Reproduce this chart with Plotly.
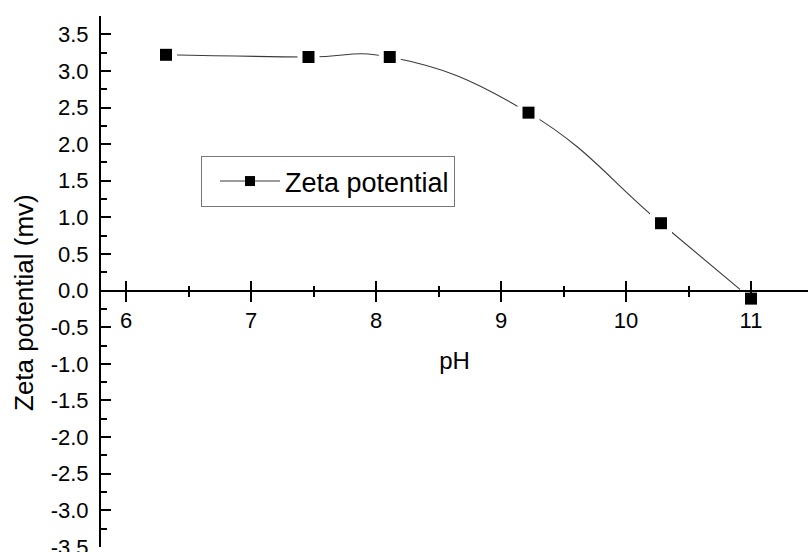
import plotly.graph_objects as go

# Measured zeta potential against pH
ph = [6.32, 7.46, 8.11, 9.22, 10.28, 11.0]
zeta = [3.22, 3.19, 3.19, 2.43, 0.92, -0.11]

series_name = "Zeta potential"
x_title = "pH"
y_title = "Zeta potential (mv)"

x_tick_vals = [6, 7, 8, 9, 10, 11]
y_tick_vals = [-3.5, -3.0, -2.5, -2.0, -1.5, -1.0, -0.5, 0.0,
               0.5, 1.0, 1.5, 2.0, 2.5, 3.0, 3.5]
y_tick_text = [f"{v:.1f}" for v in y_tick_vals]

W, H = 808, 552
M_L, M_R, M_T, M_B = 101, 0, 16, 5
X_RANGE = [5.8, 5.8 + (W - M_L - M_R) / 125.0]
Y_RANGE = [-3.502, 3.75]
# x axis crosses the y axis at zero
x_axis_pos = (0 - Y_RANGE[0]) / (Y_RANGE[1] - Y_RANGE[0])

FONT = "Liberation Sans, Arial, Helvetica, sans-serif"
LINE_COLOR = "#3a3a3a"

fig = go.Figure()

# smooth connecting curve
fig.add_trace(go.Scatter(
    x=ph, y=zeta, mode="lines",
    line=dict(color=LINE_COLOR, width=1.1, shape="spline", smoothing=1.3),
    showlegend=False, hoverinfo="skip",
))
# white halo so the curve stops short of each marker
fig.add_trace(go.Scatter(
    x=ph, y=zeta, mode="markers",
    marker=dict(symbol="square", size=22, color="white"),
    showlegend=False, hoverinfo="skip",
))
# data markers
fig.add_trace(go.Scatter(
    x=ph, y=zeta, mode="markers",
    marker=dict(symbol="square", size=12, color="black"),
    showlegend=False, name=series_name,
))
# legend entry (line + marker sample)
fig.add_trace(go.Scatter(
    x=[None], y=[None], mode="lines+markers", name=series_name,
    line=dict(color=LINE_COLOR, width=1.1),
    marker=dict(symbol="square", size=10, color="black"),
    showlegend=True,
))

axis_common = dict(
    showgrid=False, zeroline=False, linecolor="black", linewidth=2,
    tickcolor="black", tickwidth=2,
)

fig.update_layout(
    width=W, height=H,
    margin=dict(l=M_L, r=M_R, t=M_T, b=M_B, autoexpand=False),
    paper_bgcolor="white", plot_bgcolor="white",
    font=dict(family=FONT, color="black", size=22),
    xaxis=dict(
        **axis_common,
        range=X_RANGE, anchor="free", position=x_axis_pos,
        showline=True, tickvals=x_tick_vals,
        ticks="outside", ticklen=10,
        minor=dict(dtick=0.5, ticks="outside", ticklen=5,
                   tickwidth=2, tickcolor="black"),
        tickfont=dict(size=22),
        title=dict(text=x_title, font=dict(size=24), standoff=19),
    ),
    xaxis2=dict(
        **axis_common,
        range=X_RANGE, overlaying="x", anchor="free", position=x_axis_pos,
        showline=False, showticklabels=False, tickvals=x_tick_vals,
        ticks="inside", ticklen=10,
        minor=dict(dtick=0.5, ticks="inside", ticklen=5,
                   tickwidth=2, tickcolor="black"),
    ),
    yaxis=dict(
        **axis_common,
        range=Y_RANGE, showline=True,
        tickvals=y_tick_vals, ticktext=y_tick_text,
        ticks="inside", ticklen=10, ticklabelstandoff=6,
        ticklabeloverflow="allow",
        minor=dict(dtick=0.25, ticks="inside", ticklen=6,
                   tickwidth=2, tickcolor="black"),
        tickfont=dict(size=22),
    ),
    legend=dict(
        x=(201 - M_L) / (W - M_L - M_R), y=1 - (156 - M_T) / (H - M_T - M_B),
        xanchor="left", yanchor="top",
        bordercolor="#777777", borderwidth=1, bgcolor="white",
        font=dict(size=27), itemwidth=60, indentation=13,
    ),
    annotations=[dict(
        text=y_title, textangle=-90, showarrow=False,
        xref="paper", yref="paper", x=0, xshift=-(M_L - 24),
        y=(H - M_B - 303) / (H - M_T - M_B),
        xanchor="center", yanchor="middle",
        font=dict(size=26),
    )],
)

# attach an invisible trace to xaxis2 so its ticks are drawn
fig.add_trace(go.Scatter(x=[None], y=[None], xaxis="x2", showlegend=False,
                         hoverinfo="skip"))

fig.write_html("out.html")
